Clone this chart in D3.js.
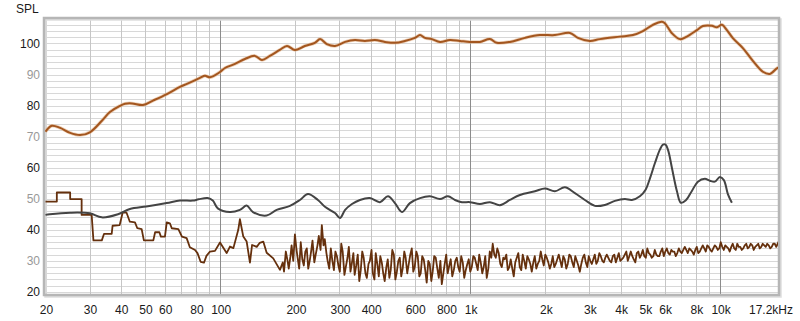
<!DOCTYPE html>
<html>
<head>
<meta charset="utf-8">
<script src="https://cdnjs.cloudflare.com/ajax/libs/d3/7.8.5/d3.min.js"></script>
<style>
  html, body { margin: 0; padding: 0; background: #fff; }
  svg text { font-family: "Liberation Sans", Arial, sans-serif; font-size: 12px; }
</style>
</head>
<body>
<svg id="chart" width="800" height="321"></svg>
<script>
// axis ticks
const xTicks      = [20, 30, 40, 50, 60, 80, 100, 200, 300, 400, 600, 800, 1000, 2000, 3000, 4000, 5000, 6000, 8000, 10000];
const xTickLabels = ["20", "30", "40", "50", "60", "80", "100", "200", "300", "400", "600", "800", "1k", "2k", "3k", "4k", "5k", "6k", "8k", "10k"];
const yTicks      = [20, 30, 40, 50, 60, 70, 80, 90, 100];

// measured response (Hz, dB)
const splMain = [
  [20, 71.6], [21.2, 73.5], [22.9, 72.8], [25.1, 71.2], [27.5, 70.5], [30.1, 71.4], [33.7, 75.2],
  [36.2, 77.9], [39.7, 79.9], [41.6, 80.6], [44.4, 80.7], [49.1, 80.2], [53.8, 81.6], [61.2, 83.7],
  [69, 86.0], [73.6, 87.0], [83, 88.9], [86.9, 89.6], [91, 89.1], [99.8, 90.8], [104.5, 92.1],
  [114.6, 93.4], [125.6, 95.0], [137.7, 96.0], [146.9, 94.7], [158, 96.0], [173, 97.9], [185, 99.2],
  [199, 97.9], [218, 99.2], [239, 100.2], [251, 101.4], [267, 99.8], [288, 99.2], [316, 100.5],
  [346, 101.1], [379, 100.8], [416, 101.1], [456, 100.5], [500, 100.2], [548, 100.8], [601, 101.8],
  [630, 102.7], [659, 101.8], [703, 101.4], [757, 100.5], [830, 101.1], [910, 100.8], [998, 100.5],
  [1094, 100.5], [1200, 101.4], [1279, 100.2], [1442, 100.5], [1656, 101.8], [1901, 102.7],
  [2183, 102.7], [2506, 103.4], [2698, 101.8], [3013, 100.8], [3304, 101.4], [3972, 102.2],
  [4477, 102.7], [4909, 104.0], [5383, 106.0], [5848, 107.0], [6012, 106.5], [6412, 103.3],
  [6902, 101.4], [7362, 102.2], [8072, 104.3], [8531, 105.6], [9268, 105.7], [9705, 105.2],
  [10163, 106.0], [10643, 104.3], [11246, 101.7], [12331, 98.5], [13521, 94.4], [14825, 90.9],
  [15813, 90.2], [16868, 92.0], [17200, 92.2]
];

const splGray = [
  [20, 44.8], [20.8, 45.0], [25.1, 45.5], [30.1, 45.3], [33.6, 44.0], [39, 45.0], [43.5, 46.7],
  [50.6, 47.5], [61.1, 48.6], [69, 49.4], [77.7, 49.4], [81.9, 49.8], [89.1, 50.2], [93.4, 49.4],
  [97.8, 46.9], [109.4, 45.7], [119.9, 46.4], [127.6, 47.8], [135.2, 45.7], [153.4, 44.6],
  [168.2, 46.4], [190.1, 47.7], [208.4, 49.6], [224.4, 51.5], [246, 49.6], [262.4, 47.4],
  [288, 45.4], [301.4, 43.8], [316, 46.4], [336.6, 48.3], [362.2, 49.6], [397, 50.2],
  [435.5, 48.9], [468.9, 50.8], [500, 48.6], [533.4, 45.7], [574, 48.6], [630, 50.2],
  [690.2, 50.8], [757, 49.9], [814.8, 50.8], [869.4, 49.6], [926.8, 48.9], [998, 48.9],
  [1094, 48.3], [1200, 48.9], [1315, 47.9], [1442, 49.6], [1581, 51.2], [1816, 52.4],
  [1991, 53.3], [2183, 52.4], [2393, 53.7], [2624, 51.8], [2877, 49.6], [3155, 47.7],
  [3459, 48.0], [3793, 49.3], [4158, 49.9], [4436, 49.6], [4775, 50.8], [5040, 53.0],
  [5236, 56.5], [5486, 61.5], [5741, 65.8], [5903, 67.4], [6050, 67.4], [6200, 65.5],
  [6412, 60.0], [6714, 52.5], [6966, 48.7], [7294, 49.5], [7708, 52.5], [8149, 55.5],
  [8689, 56.4], [9099, 55.8], [9527, 55.5], [9976, 57.0], [10351, 56.0], [10740, 51.5],
  [11143, 48.7]
];

const splBrownLow = [
  [20, 49.1], [22.2, 49.1], [22.2, 52.0], [25.1, 52.0], [25.1, 49.9], [27.9, 49.9], [27.9, 44.8],
  [30.6, 44.8], [31.1, 36.6], [33.6, 36.6], [34.3, 38.7], [36.8, 38.7], [37.1, 41.3], [39.6, 41.5],
  [40.7, 45.5], [42.2, 45.5], [43.5, 42.6], [45.6, 42.4], [46.6, 40.5], [48.5, 40.2], [49.5, 36.6],
  [54.0, 36.6], [54.9, 39.2], [57.1, 39.2], [57.9, 37.8], [60.1, 37.8], [61.1, 42.4], [62.9, 42.1],
  [64.0, 40.5], [68.0, 40.2], [70.3, 37.8], [73.4, 37.3], [75.6, 34.4], [79.3, 33.5], [81.1, 32.5],
  [83.5, 29.7], [86.1, 29.4], [88.1, 31.6], [91.0, 33.0], [95.3, 33.2], [99.8, 35.9], [106.1, 32.5],
  [109.4, 34.6], [112.9, 34.1], [118.1, 40.0], [119.9, 43.4], [123.7, 37.8], [127.6, 36.2],
  [131.5, 29.4], [134.1, 35.1], [140, 34.5], [144, 35.8], [148.7, 36.2], [153.4, 32.6],
  [163.0, 30.8], [173.4, 27.1]
];

const splBrownNoise = [
  [178, 29.5], [183, 33], [188, 27.5], [193, 35], [199, 38.5], [204, 31], [210, 36], [216, 28.5],
  [222, 34], [228, 30], [234, 36.5], [241, 32], [248, 38], [255, 41.5], [262, 37], [269, 30],
  [277, 34], [285, 27], [293, 31.5], [301, 26.5], [309, 33], [318, 28], [327, 34.5], [336, 29],
  [345, 25.5], [355, 32], [365, 27], [375, 31], [386, 24.5], [397, 30], [408, 26], [419, 32.5],
  [431, 25], [443, 29.5], [455, 23.5], [468, 30.5], [481, 27], [495, 32], [509, 26.5], [523, 31],
  [537, 27.5], [552, 31], [568, 29], [584, 34], [600, 28], [617, 31.5], [634, 26], [652, 30.5],
  [670, 23], [689, 29], [708, 26.5], [728, 31], [749, 24.5], [770, 22.5], [791, 29], [813, 26],
  [836, 30.5], [860, 27], [884, 31], [908, 26.5], [934, 29.5], [960, 27], [987, 30.5], [1015, 28],
  [1043, 31], [1072, 27], [1102, 29.5], [1133, 28], [1165, 24.5], [1198, 33], [1231, 35.5],
  [1266, 31], [1301, 32.5], [1338, 28], [1375, 30.5], [1414, 27], [1453, 30.5], [1494, 25],
  [1536, 31], [1579, 28], [1623, 32], [1669, 27.5], [1716, 30.5], [1764, 26.5], [1813, 31.5],
  [1864, 29], [1916, 33], [1970, 28.5], [2025, 31], [2082, 27.5], [2140, 31.5], [2200, 29],
  [2262, 32], [2325, 28], [2390, 30.5], [2457, 29], [2526, 31.5], [2597, 28], [2670, 30],
  [2745, 26.5], [2822, 31], [2901, 29.5], [2982, 31.5], [3066, 29], [3152, 32], [3240, 30],
  [3331, 31.5], [3424, 29.5], [3520, 32], [3619, 30], [3720, 31.5], [3825, 29.5], [3932, 32.5],
  [4042, 30.5], [4155, 32], [4272, 30], [4391, 33], [4514, 30.5], [4641, 32.5], [4771, 31],
  [4905, 33.5], [5042, 31], [5183, 32.5], [5329, 31], [5478, 33.5], [5631, 31.5], [5789, 33],
  [5951, 31.5], [6118, 34], [6289, 32], [6465, 33], [6646, 31.5], [6833, 34], [7024, 32.5],
  [7221, 34.5], [7423, 32.5], [7631, 33.5], [7845, 32], [8064, 34.5], [8290, 33], [8522, 35],
  [8761, 33], [9006, 34.5], [9259, 33], [9518, 35], [9784, 33.5], [10058, 36], [10340, 33.5],
  [10630, 34.5], [10927, 33], [11233, 35.5], [11548, 33.5], [11871, 34.5], [12204, 33.5],
  [12545, 35], [12897, 34], [13258, 35.5], [13629, 33.5], [14011, 35], [14403, 34], [14806, 35.5],
  [15221, 34.5], [15647, 35], [16085, 34.5], [16536, 35.5], [16999, 35.5], [17200, 36]
];

// readings taken between the points above
const splBrownNoiseMid = [
  [180, 26.5], [186, 30], [191, 31.5], [196, 30], [202, 33.5], [207, 27.5], [213, 30.5], [219, 33],
  [225, 27.5], [231, 33], [238, 29.5], [245, 35], [252, 33.5], [259, 35], [266, 32.5], [273, 27.5],
  [281, 30], [289, 33], [297, 28.5], [305, 35.5], [314, 25.5], [323, 31], [332, 26.5], [341, 32.5],
  [350, 28.5], [360, 23.5], [370, 33], [381, 26], [392, 29], [403, 33.5], [414, 24], [425, 29],
  [437, 31.5], [449, 26], [462, 28], [475, 24.5], [488, 33.5], [502, 24], [516, 30], [530, 25],
  [545, 33], [560, 26], [576, 32], [592, 26.5], [609, 33], [626, 25], [643, 31.5], [661, 27],
  [680, 30], [699, 23.5], [718, 31.5], [739, 27.5], [760, 30], [781, 26], [802, 32], [825, 28.5],
  [848, 25], [872, 30], [896, 28], [921, 31.5], [947, 24.5], [974, 29], [1001, 26.5], [1029, 31.5],
  [1058, 29], [1087, 32], [1118, 26], [1149, 31.5], [1182, 27.5], [1215, 31], [1249, 32], [1284, 34],
  [1320, 29], [1357, 31], [1395, 32], [1434, 28], [1474, 27.5], [1515, 29.5], [1558, 32.5],
  [1601, 27], [1646, 30], [1693, 31.5], [1740, 29], [1789, 29.5], [1839, 27.5], [1890, 30],
  [1943, 30.5], [1998, 32], [2054, 29.5], [2111, 29], [2170, 28], [2231, 30.5], [2294, 30],
  [2358, 31.5], [2424, 27.5], [2492, 32], [2562, 29.5], [2634, 31.5], [2708, 28.5], [2784, 29],
  [2862, 32], [2942, 28], [3024, 30], [3109, 30.5], [3196, 29], [3286, 32.5], [3378, 30],
  [3472, 31], [3570, 31], [3670, 29.5], [3773, 32], [3879, 31], [3987, 30], [4099, 31], [4214, 33],
  [4332, 31.5], [4453, 31.5], [4578, 29.5], [4706, 33], [4838, 32], [4974, 31.5], [5113, 34],
  [5256, 32], [5404, 31.5], [5555, 32], [5710, 31.5], [5870, 34], [6035, 33], [6204, 32.5],
  [6377, 33.5], [6556, 33], [6740, 32.5], [6929, 33], [7123, 33.5], [7322, 33.5], [7527, 34],
  [7738, 33], [7955, 33.5], [8177, 32.5], [8406, 34], [8642, 34], [8884, 35], [9133, 33.5],
  [9389, 34], [9651, 34.5], [9921, 34], [10199, 34.5], [10485, 35], [10779, 34], [11080, 34.5],
  [11391, 34], [11710, 35.5], [12038, 34.5], [12375, 34], [12721, 35.5], [13078, 34.5],
  [13444, 35], [13820, 34.5], [14207, 35.5], [14605, 34.5], [15014, 35], [15434, 35.5],
  [15866, 34], [16311, 35.5], [16768, 34.5], [17100, 36]
];

const svg = d3.select("#chart");

const plot = {left: 44, top: 18, right: 779, bottom: 295};

const x = d3.scaleLog().domain([20, 17200]).range([45.5, 779]);
const y = d3.scaleLinear().domain([19, 108.2]).range([295, 18]);

// grid: every 2 dB, and every integer multiple of each decade
const gridG = svg.append("g");
gridG.selectAll("line.h")
  .data(d3.range(20, 109, 2))
  .enter().append("line")
  .attr("x1", plot.left).attr("x2", plot.right)
  .attr("y1", d => Math.round(y(d)) + 0.5).attr("y2", d => Math.round(y(d)) + 0.5)
  .attr("stroke", "#d8d8d8").attr("stroke-width", 1);

let vGrid = [];
[10, 100, 1000, 10000].forEach(dec => {
  for (let m = 1; m <= 9; m++) {
    const f = dec * m;
    if (f >= 20 && f <= 17200) vGrid.push(f);
  }
});
gridG.selectAll("line.v")
  .data(vGrid)
  .enter().append("line")
  .attr("x1", d => Math.round(x(d)) + 0.5).attr("x2", d => Math.round(x(d)) + 0.5)
  .attr("y1", plot.top).attr("y2", plot.bottom)
  .attr("stroke", d => [100, 1000, 10000].includes(d) ? "#8c8c8c" : "#c6c6c6")
  .attr("stroke-width", 1);

// frame with a soft shadow
svg.append("rect")
  .attr("x", plot.left + 1.5).attr("y", plot.top + 1.5)
  .attr("width", plot.right - plot.left).attr("height", plot.bottom - plot.top)
  .attr("fill", "none").attr("stroke", "#dedede").attr("stroke-width", 2.5);
svg.append("rect")
  .attr("x", plot.left).attr("y", plot.top)
  .attr("width", plot.right - plot.left).attr("height", plot.bottom - plot.top)
  .attr("fill", "none").attr("stroke", "#b6b6b6").attr("stroke-width", 2.5);

svg.append("clipPath").attr("id", "clip")
  .append("rect")
  .attr("x", plot.left + 1).attr("y", plot.top + 1)
  .attr("width", plot.right - plot.left - 2).attr("height", plot.bottom - plot.top - 2);

const curves = svg.append("g").attr("clip-path", "url(#clip)");

const smooth = d3.line().x(d => x(d[0])).y(d => y(d[1])).curve(d3.curveCatmullRom.alpha(0.5));
const straight = d3.line().x(d => x(d[0])).y(d => y(d[1]));

// brown noise-like trace
const brown = splBrownLow.concat(
  splBrownNoise.concat(splBrownNoiseMid).sort((a, b) => a[0] - b[0])
);
curves.append("path")
  .attr("d", straight(brown))
  .attr("fill", "none").attr("stroke", "#65300d").attr("stroke-width", 1.8)
  .attr("stroke-linejoin", "round");

// gray trace
curves.append("path")
  .attr("d", smooth(splGray))
  .attr("fill", "none").attr("stroke", "#444444").attr("stroke-width", 2);

// main response with a light halo
curves.append("path")
  .attr("d", smooth(splMain))
  .attr("fill", "none").attr("stroke", "#e2b48c").attr("stroke-width", 3.5).attr("opacity", 0.6);
curves.append("path")
  .attr("d", smooth(splMain))
  .attr("fill", "none").attr("stroke", "#a3561f").attr("stroke-width", 2);

// y labels
svg.append("g").selectAll("text")
  .data(yTicks)
  .enter().append("text")
  .attr("x", 40).attr("y", d => y(d) + 4.5)
  .attr("text-anchor", "end")
  .attr("fill", d => d % 20 === 0 ? "#1a1a1a" : "#999999")
  .text(d => d);

// x labels
svg.append("g").selectAll("text")
  .data(xTicks)
  .enter().append("text")
  .attr("x", d => x(d) + 1).attr("y", 314)
  .attr("text-anchor", "middle")
  .attr("fill", "#1a1a1a")
  .text((d, i) => xTickLabels[i]);

svg.append("text")
  .attr("x", 793).attr("y", 314)
  .attr("text-anchor", "end").attr("fill", "#1a1a1a")
  .text("17.2kHz");

svg.append("text")
  .attr("x", 16).attr("y", 13)
  .attr("fill", "#1a1a1a")
  .text("SPL");
</script>
</body>
</html>
